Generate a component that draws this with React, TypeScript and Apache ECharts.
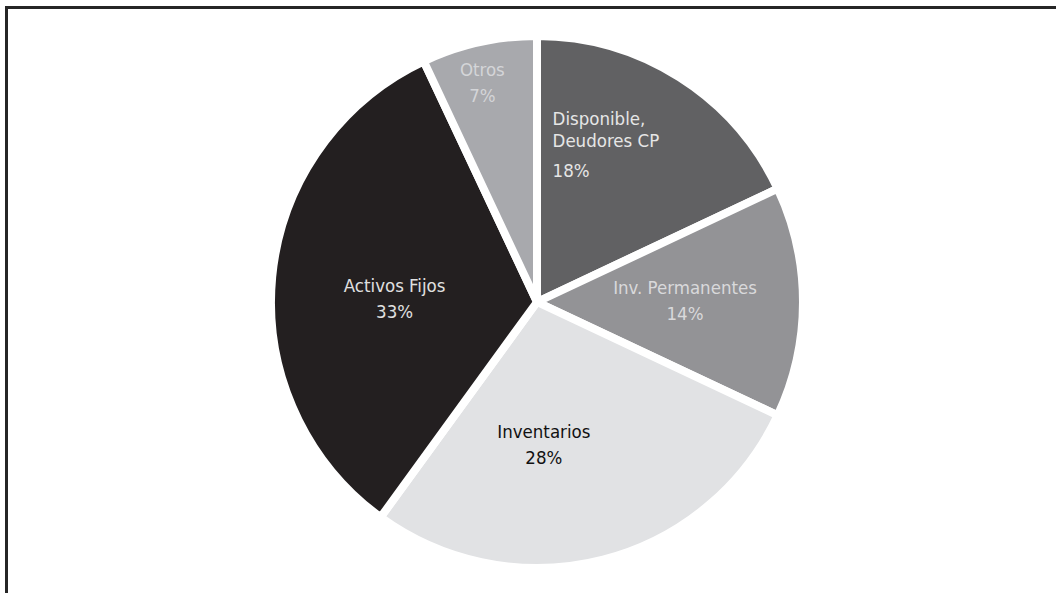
import React, { useEffect, useRef } from "react";
import * as echarts from "echarts";

const categories = ["Disponible, Deudores CP", "Inv. Permanentes", "Inventarios", "Activos Fijos", "Otros"];
const values = [18, 14, 28, 33, 7];
const sliceColors = ["#616163", "#939396", "#e1e2e4", "#231f20", "#a8a9ad"];
const labelColors = ["#e6e6e6", "#d9d9db", "#111111", "#e0e0e0", "#d4d5d8"];
const labelOffsets: [number, number][] = [[-4, -39], [12, -2], [-27, 11], [-7, 9], [-25, -87]];

const FONT = "Tahoma, 'DejaVu Sans Condensed', 'DejaVu Sans', sans-serif";
const FS = 18.5;

export default function App() {
  const ref = useRef<HTMLDivElement>(null);
  useEffect(() => {
    document.body.style.margin = "0";
    const chart = echarts.init(ref.current!, null, { renderer: "svg" });
    const data = categories.map((name, i) => {
      const isFirst = i === 0;
      return {
        name,
        value: values[i],
        itemStyle: { color: sliceColors[i] },
        label: {
          position: "inside",
          offset: labelOffsets[i],
          align: isFirst ? "left" : "center",
          color: labelColors[i],
          formatter: isFirst
            ? "{a|Disponible,}\n{a|Deudores CP}\n{b|{d}%}"
            : "{c|{b}}\n{c|{d}%}",
          rich: {
            a: { color: labelColors[i], fontSize: FS, fontFamily: FONT, lineHeight: 22, align: "left" },
            b: { color: labelColors[i], fontSize: FS, fontFamily: FONT, lineHeight: 38, align: "left" },
            c: { color: labelColors[i], fontSize: FS, fontFamily: FONT, lineHeight: 26, align: "center" },
          },
        },
      };
    });
    chart.setOption({
      animation: false,
      backgroundColor: "#ffffff",
      graphic: [
        {
          type: "polyline",
          shape: { points: [[6.5, 600], [6.5, 7.5], [1060, 7.5]] },
          style: { stroke: "#262626", lineWidth: 3, fill: null },
        },
      ],
      series: [
        {
          type: "pie",
          center: [537, 302],
          radius: 266,
          startAngle: 90,
          clockwise: true,
          avoidLabelOverlap: false,
          itemStyle: { borderColor: "#ffffff", borderWidth: 8 },
          label: { show: true, position: "inside", fontFamily: FONT, fontSize: FS },
          labelLine: { show: false },
          emphasis: { disabled: true },
          data,
        },
      ],
    });
    return () => chart.dispose();
  }, []);
  return <div ref={ref} style={{ width: 1056, height: 593 }} />;
}
